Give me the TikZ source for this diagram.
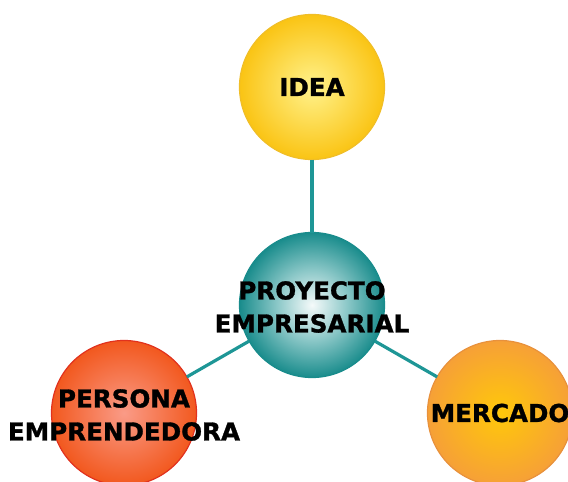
\documentclass[tikz,border=0pt]{standalone}
\usepackage{fontspec}
\setmainfont{DejaVu Sans}
\usepackage{tikz}
\usetikzlibrary{positioning}
\usepackage{color}
\definecolor{ideain}{RGB}{255, 242, 140}
\definecolor{ideaout}{RGB}{250, 196, 20}
\definecolor{idealine}{RGB}{240, 190, 40}
\definecolor{tealin}{RGB}{245, 250, 250}
\definecolor{tealmid}{RGB}{140, 200, 200}
\definecolor{tealout}{RGB}{25, 140, 140}
\definecolor{teal}{RGB}{30, 150, 150}
\definecolor{redin}{RGB}{250, 155, 135}
\definecolor{redout}{RGB}{242, 88, 30}
\definecolor{redline}{RGB}{225, 50, 30}
\definecolor{orangein}{RGB}{255, 200, 10}
\definecolor{orangeout}{RGB}{246, 160, 55}
\definecolor{orangeline}{RGB}{232, 145, 60}
\pgfdeclareradialshading{ideashade}{\pgfpoint{0bp}{0bp}}{color(0bp)=(ideain); color(25bp)=(ideaout); color(50bp)=(ideaout)}
\pgfdeclareradialshading{tealshade}{\pgfpoint{0bp}{0bp}}{color(0bp)=(tealin); color(12bp)=(tealmid); color(25bp)=(tealout); color(50bp)=(tealout)}
\pgfdeclareradialshading{redshade}{\pgfpoint{0bp}{0bp}}{color(0bp)=(redin); color(25bp)=(redout); color(50bp)=(redout)}
\pgfdeclareradialshading{orangeshade}{\pgfpoint{0bp}{0bp}}{color(0bp)=(orangein); color(25bp)=(orangeout); color(50bp)=(orangeout)}
\tikzset{
    ball/.style={circle, minimum size=72.5pt, inner sep=0pt, outer sep=0pt, line width=0.6pt},
    balltext/.style={align=center, font=\fontsize{12.3}{16.5}\selectfont\bfseries\addfontfeature{FakeBold=1.2}, text=black},
    link/.style={color=teal, line width=1.6pt}
}
\begin{document}
\begin{tikzpicture}[x=0.5pt, y=-0.5pt]
            \useasboundingbox (0,0) rectangle (568,482);
            \node[ball, draw=idealine,   shading=ideashade]   (idea)     at (312, 87) {};
            \node[ball, draw=tealout,    shading=tealshade]   (proyecto) at (312,305) {};
            \node[ball, draw=redline,    shading=redshade]    (persona)  at (124,413) {};
            \node[ball, draw=orangeline, shading=orangeshade] (mercado)  at (500,413) {};
            \draw[link] (idea) -- (proyecto);
            \draw[link] (proyecto) -- (persona);
            \draw[link] (proyecto) -- (mercado);
            \node[balltext] (ideatext)     at (idea)     {IDEA};
            \node[balltext] (proyectotext) at (312,307)  {PROYECTO\\EMPRESARIAL};
            \node[balltext] (personatext)  at (124,415)  {PERSONA\\EMPRENDEDORA};
            \node[balltext] (mercadotext)  at (500,413)  {MERCADO};
        \end{tikzpicture}
\end{document}
